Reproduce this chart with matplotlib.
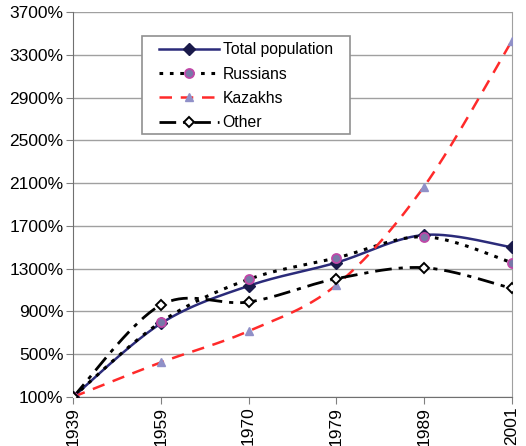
import numpy as np
import matplotlib
matplotlib.use("Agg")
import matplotlib.pyplot as plt
from matplotlib.ticker import FuncFormatter
from matplotlib.patches import Rectangle

years = ["1939", "1959", "1970", "1979", "1989", "2001"]
total = [100, 787, 1139, 1356, 1615, 1500]
russians = [100, 801, 1200, 1400, 1598, 1357]
kazakhs = [100, 423, 716, 1147, 2068, 3430]
other = [100, 960, 988, 1206, 1309, 1116]
yticks = list(range(100, 3701, 400))

plt.rcParams['font.family'] = ['Liberation Sans', 'DejaVu Sans']


def smooth(xs, ys, n=40):
    xs = np.asarray(xs, float)
    ys = np.asarray(ys, float)
    P = np.column_stack([xs, ys])
    P = np.vstack([P[0], P, P[-1]])
    out = []
    for i in range(1, len(P) - 2):
        p0, p1, p2, p3 = P[i - 1], P[i], P[i + 1], P[i + 2]
        b1 = p1 + (p2 - p0) / 6.0
        b2 = p2 - (p3 - p1) / 6.0
        t = np.linspace(0, 1, n)[:, None]
        seg = ((1 - t) ** 3) * p1 + 3 * ((1 - t) ** 2) * t * b1 + 3 * (1 - t) * t ** 2 * b2 + t ** 3 * p2
        out.append(seg if i == 1 else seg[1:])
    seg = np.vstack(out)
    return seg[:, 0], seg[:, 1]


fig = plt.figure(figsize=(5.26, 4.46), dpi=100)
ax = fig.add_axes([0.139, 0.110, 0.834, 0.863])
x = np.arange(len(years))

series = [
    ("Total population", total, dict(color="#2b2b7a", ls="-", lw=1.8),
     dict(marker="D", ms=6, mfc="#1a1a4a", mec="#1a1a4a")),
    ("Russians", russians, dict(color="black", ls=(0, (1.2, 2.2)), lw=2.2),
     dict(marker="o", ms=6.5, mfc="#7878a8", mec="#c048a8", mew=1.3)),
    ("Kazakhs", kazakhs, dict(color="#ff2a2a", ls=(0, (5, 3.5)), lw=1.8),
     dict(marker="^", ms=6, mfc="#9090c8", mec="#9090c8")),
    ("Other", other, dict(color="black", ls=(0, (6, 2.5, 1.5, 2.5)), lw=2.0),
     dict(marker="D", ms=5.5, mfc="white", mec="black", mew=1.4)),
]

handles = []
for label, vals, lst, mst in series:
    sx, sy = smooth(x, vals)
    ax.plot(sx, sy, zorder=3, **lst)
    ax.plot(x, vals, ls="none", zorder=4, **mst)
    h, = ax.plot([], [], label=label, **lst, **mst)
    handles.append(h)

ax.set_xlim(0, len(years) - 1)
ax.set_ylim(100, 3700)
ax.set_yticks(yticks)
ax.yaxis.set_major_formatter(FuncFormatter(lambda v, p: f"{int(v)}%"))
ax.set_xticks(x)
ax.set_xticklabels(years, rotation=90, fontsize=12.5)
ax.tick_params(axis='y', labelsize=12.5, length=5, color="#808080", pad=2)
ax.tick_params(axis='x', length=5, color="#808080", pad=2)
ax.grid(axis='y', color="#a0a0a0", lw=1)
ax.set_axisbelow(True)
for s in ["left", "bottom"]:
    ax.spines[s].set_color("#707070")
ax.spines["right"].set_color("#a0a0a0")
ax.spines["top"].set_visible(False)

# legend frame
ax.add_patch(Rectangle((0.157, 0.683), 0.474, 0.255, transform=ax.transAxes,
                       facecolor="white", edgecolor="#909090", lw=1.2, zorder=5))
leg = ax.legend(handles=handles, loc="upper left", bbox_to_anchor=(0.196, 0.921),
                fontsize=11.3, frameon=False,
                handlelength=3.8, labelspacing=0.59, borderpad=0, handletextpad=0.25,
                numpoints=1, borderaxespad=0)
leg.set_zorder(6)

fig.savefig("out.png", dpi=100)
